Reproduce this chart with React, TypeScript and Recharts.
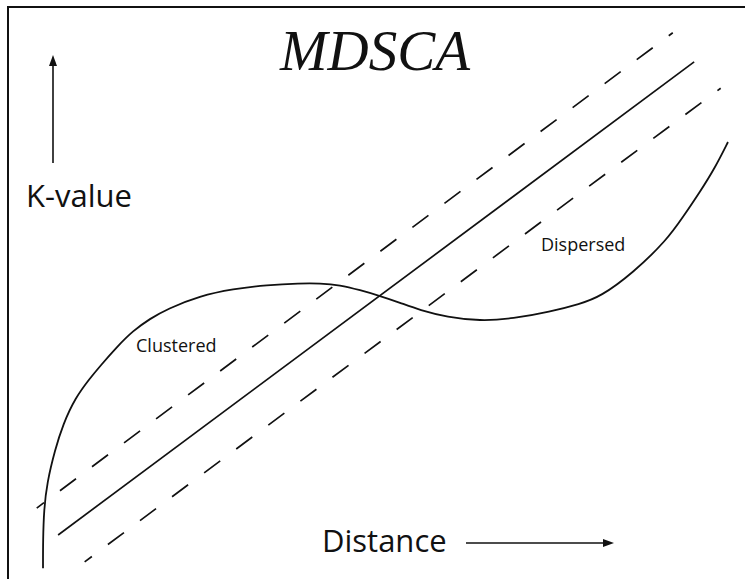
import React from 'react';
import { LineChart, Line, XAxis, YAxis } from 'recharts';

// K-function sketch: distance (x) vs K-value (y), both on a 0-100 scale
const curveDistance = [4.75, 4.75, 4.88, 5.29, 6.38, 7.46, 9.09, 11.13, 12.48, 14.79, 16.96, 19.27, 21.57, 26.05, 30.53, 35.14, 39.62, 42.33, 45.05, 47.76, 50.47, 53.19, 55.9, 59.57, 64.04, 68.52, 73.54, 77.61, 80.33, 84.8, 89.42, 91.59, 93.9, 95.93, 97.69];
const curveK = [1.9, 6.8, 12.1, 16.8, 22.6, 27.0, 31.6, 35.1, 37.2, 40.6, 43.4, 45.5, 47.2, 49.5, 50.7, 51.4, 51.7, 51.7, 51.4, 50.5, 49.5, 48.3, 47.0, 45.8, 45.1, 45.5, 46.7, 48.1, 49.3, 53.5, 59.3, 63.3, 67.7, 71.9, 76.4];

const expectedDistance = [6.8, 93.1];
const expectedK = [7.7, 90.4];
const upperDistance = [3.9, 90.2];
const upperK = [12.4, 95.5];
const lowerDistance = [10.4, 96.7];
const lowerK = [3.0, 85.8];

const zip = (xs: number[], ys: number[]) => xs.map((d, i) => ({ d, k: ys[i] }));

const curve = zip(curveDistance, curveK);
const expected = zip(expectedDistance, expectedK);
const upper = zip(upperDistance, upperK);
const lower = zip(lowerDistance, lowerK);

const INK = '#111';
const sans = '"Open Sans", "Noto Sans", sans-serif';

const App = () => {
  return (
    <div style={{ position: 'absolute', left: 0, top: 0, width: 745, height: 579, background: '#fff', overflow: 'hidden' }}>
      {/* frame: only top and left edges show */}
      <div style={{ position: 'absolute', left: 7, top: 6, width: 745, height: 600, borderTop: `2px solid ${INK}`, borderLeft: `2px solid ${INK}` }} />
      <div style={{ position: 'absolute', left: 0, top: 0 }}>
        <LineChart width={745} height={579} margin={{ top: 7, right: 0, bottom: 0, left: 8 }}>
          <XAxis type="number" dataKey="d" domain={[0, 100]} hide allowDataOverflow />
          <YAxis type="number" domain={[0, 100]} hide allowDataOverflow />
          <Line data={upper} dataKey="k" type="linear" stroke={INK} strokeWidth={1.7} strokeDasharray="20 20" strokeDashoffset={11} dot={false} isAnimationActive={false} />
          <Line data={lower} dataKey="k" type="linear" stroke={INK} strokeWidth={1.7} strokeDasharray="20 20" strokeDashoffset={11} dot={false} isAnimationActive={false} />
          <Line data={expected} dataKey="k" type="linear" stroke={INK} strokeWidth={1.7} dot={false} isAnimationActive={false} />
          <Line data={curve} dataKey="k" type="basis" stroke={INK} strokeWidth={1.8} dot={false} isAnimationActive={false} />
        </LineChart>
      </div>
      <svg width={745} height={579} style={{ position: 'absolute', left: 0, top: 0, pointerEvents: 'none' }}>
        <text x={375} y={70} textAnchor="middle" fontFamily='"Liberation Serif", "Times New Roman", serif' fontStyle="italic" fontSize={57} fill={INK}>MDSCA</text>
        <text x={26} y={207} fontFamily={sans} fontSize={31} fill={INK}>K-value</text>
        <text x={322} y={552} fontFamily={sans} fontSize={31} fill={INK}>Distance</text>
        <text x={136} y={352} fontFamily={sans} fontSize={18} fill={INK}>Clustered</text>
        <text x={541} y={251} fontFamily={sans} fontSize={18} fill={INK}>Dispersed</text>
        {/* axis arrows */}
        <line x1={53} y1={163} x2={53} y2={62} stroke={INK} strokeWidth={1.6} />
        <polygon points="53,55 49,66 57,66" fill={INK} />
        <line x1={466} y1={543} x2={606} y2={543} stroke={INK} strokeWidth={1.6} />
        <polygon points="614,543 603,539 603,547" fill={INK} />
      </svg>
    </div>
  );
};

export default App;
